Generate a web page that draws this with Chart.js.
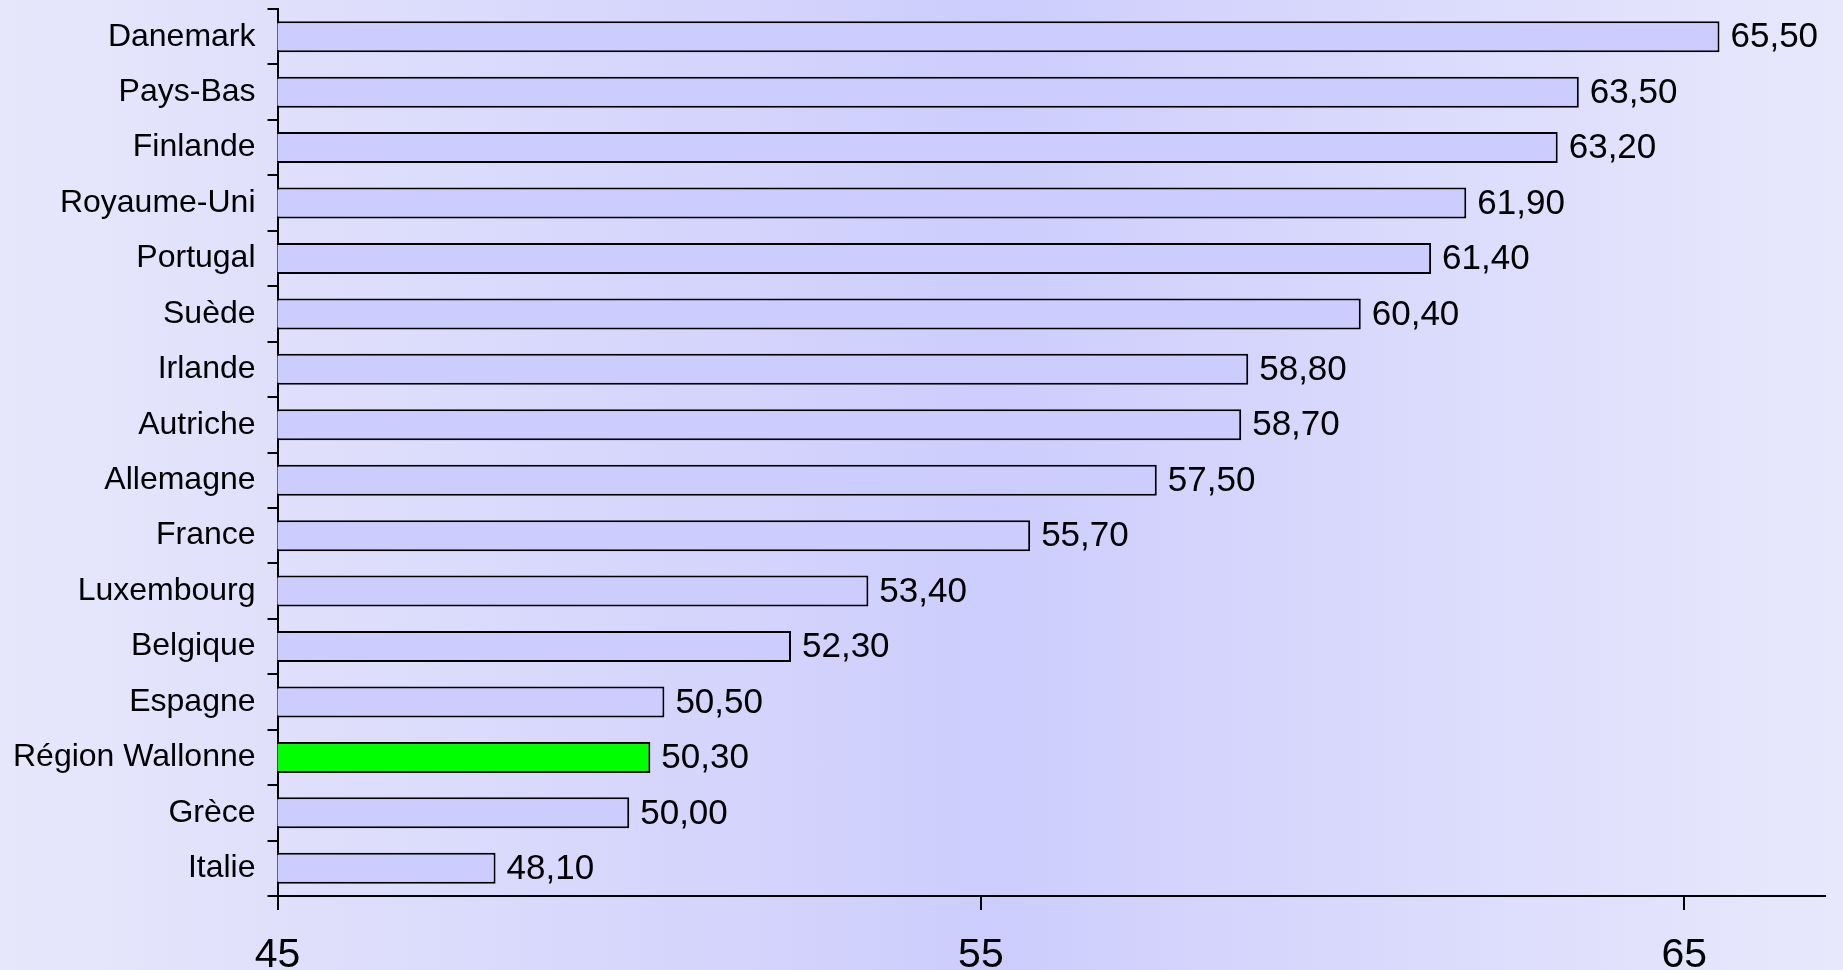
<!DOCTYPE html>
<html lang="fr">
<head>
    <meta charset="UTF-8">
    <title>Taux d'emploi</title>
    <script src="https://cdn.jsdelivr.net/npm/chart.js"></script>
    <style>
        html, body {
            margin: 0;
            padding: 0;
            width: 1843px;
            height: 970px;
            overflow: hidden;
            background: linear-gradient(to right, #e7e7fb 0%, #cdcdfd 54%, #e8e8fc 100%);
        }
        #chart {
            display: block;
        }
    </style>
</head>
<body>
    <canvas id="chart" width="1843" height="970"></canvas>
<script>
    // Data
    const countries = ['Danemark', 'Pays-Bas', 'Finlande', 'Royaume-Uni', 'Portugal', 'Suède', 'Irlande',
        'Autriche', 'Allemagne', 'France', 'Luxembourg', 'Belgique', 'Espagne', 'Région Wallonne', 'Grèce', 'Italie'];
    const rates = [65.5, 63.5, 63.2, 61.9, 61.4, 60.4, 58.8, 58.7, 57.5, 55.7, 53.4, 52.3, 50.5, 50.3, 50.0, 48.1];
    const xTicks = [45, 55, 65];
    const highlighted = 'Région Wallonne';

    const barColors = countries.map(c => c === highlighted ? '#00ff00' : '#ccccff');

    // value labels at the end of each bar (french decimal comma)
    const valueLabels = {
        id: 'valueLabels',
        afterDatasetsDraw(chart) {
            const ctx = chart.ctx;
            const meta = chart.getDatasetMeta(0);
            ctx.save();
            ctx.font = '35px "Liberation Sans", Arial, sans-serif';
            ctx.fillStyle = '#000';
            ctx.textAlign = 'left';
            ctx.textBaseline = 'middle';
            meta.data.forEach((bar, i) => {
                const txt = rates[i].toFixed(2).replace('.', ',');
                ctx.fillText(txt, bar.x + 11, bar.y + 1);
            });
            ctx.restore();
        }
    };

    const ctx = document.getElementById('chart').getContext('2d');
    new Chart(ctx, {
        type: 'bar',
        data: {
            labels: countries,
            datasets: [{
                data: rates,
                backgroundColor: barColors,
                borderColor: '#000',
                borderWidth: 2,
                borderSkipped: false,
                categoryPercentage: 1,
                barPercentage: 0.56
            }]
        },
        options: {
            indexAxis: 'y',
            responsive: false,
            devicePixelRatio: 1,
            animation: false,
            layout: {
                padding: { top: 9, right: 18, bottom: 0, left: 1 }
            },
            plugins: {
                legend: { display: false },
                tooltip: { enabled: false }
            },
            scales: {
                x: {
                    min: 45,
                    max: 67,
                    afterBuildTicks: axis => {
                        axis.ticks = xTicks.map(v => ({ value: v }));
                    },
                    afterFit: axis => {
                        axis.height = 74;
                    },
                    grid: {
                        drawOnChartArea: false,
                        drawTicks: true,
                        tickLength: 14,
                        color: '#000',
                        lineWidth: 2
                    },
                    border: { display: true, color: '#000', width: 2 },
                    ticks: {
                        color: '#000',
                        padding: 25,
                        maxRotation: 0,
                        font: { family: '"Liberation Sans", Arial, sans-serif', size: 41, lineHeight: 1 }
                    }
                },
                y: {
                    afterFit: axis => {
                        axis.paddingTop = 0;
                        axis.paddingBottom = 0;
                    },
                    grid: {
                        drawOnChartArea: false,
                        drawTicks: true,
                        tickLength: 10,
                        color: '#000',
                        lineWidth: 2,
                        offset: true
                    },
                    border: { display: true, color: '#000', width: 2 },
                    ticks: {
                        color: '#000',
                        padding: 12,
                        font: { family: '"Liberation Sans", Arial, sans-serif', size: 32 }
                    }
                }
            }
        },
        plugins: [valueLabels]
    });
</script>
</body>
</html>
